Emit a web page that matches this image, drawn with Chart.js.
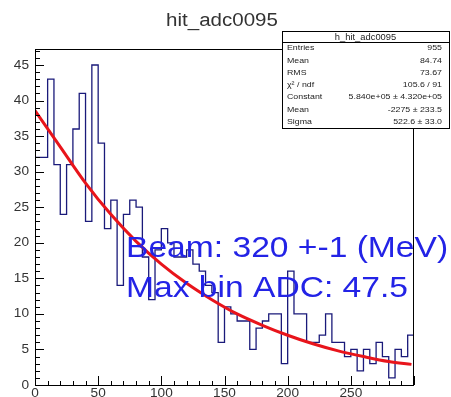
<!DOCTYPE html>
<html>
<head>
<meta charset="utf-8">
<script src="https://cdn.jsdelivr.net/npm/chart.js@4.4.1/dist/chart.umd.min.js"></script>
<style>
  html, body { margin: 0; padding: 0; background: #fff; }
  #wrap { position: relative; width: 451px; height: 397px; }
</style>
</head>
<body>
<div id="wrap"><canvas id="c" width="451" height="397"></canvas></div>
<script>
// histogram: 60 bins of width 5 from 0 to 300
const binLow = 0;
const binWidth = 5;
const counts = [32, 32, 43, 31, 24, 31, 36, 41, 23, 45, 34, 22, 26, 14, 24,
  26, 25, 18, 12, 19, 22, 20, 18, 18, 19, 17, 16, 14, 13, 6,
  11, 10, 9, 9, 5, 8, 9, 10, 10, 3, 16, 10, 10, 6, 6,
  7, 10, 6, 6, 4, 5, 2, 5, 3, 6, 4, 1, 5, 4, 7];

// red fit curve, read at every 20 ADC
const fitX = [0, 20, 40, 60, 80, 100, 120, 140, 160, 180, 200, 220, 240, 260, 280, 298];
const fitY = [38.6, 33.5, 28.4, 24.0, 20.2, 17.0, 14.3, 12.0, 10.0, 8.4, 7.0, 5.8, 4.8, 4.0, 3.3, 2.9];

const xTicks = [0, 50, 100, 150, 200, 250];
const yTicks = [0, 5, 10, 15, 20, 25, 30, 35, 40, 45];

const statsTitle = 'h_hit_adc0095';
const statsRows = [
  ['Entries', '955'],
  ['Mean', '84.74'],
  ['RMS', '73.67'],
  ['\u03c7\u00b2 / ndf', '105.6 / 91'],
  ['Constant', '5.840e+05 \u00b1 4.320e+05'],
  ['Mean', '-2275 \u00b1 233.5'],
  ['Sigma', '522.6 \u00b1 33.0']
];

// step outline points at the bin edges
const histPts = counts.map((c, i) => ({ x: binLow + i * binWidth, y: c }));
histPts.push({ x: binLow + counts.length * binWidth, y: counts[counts.length - 1] });
const fitPts = fitX.map((x, i) => ({ x, y: fitY[i] }));

const FONT = '"Liberation Sans", Arial, sans-serif';

// text with a slight horizontal stretch
function label(ctx, str, px, py, size, align, sx) {
  ctx.save();
  ctx.translate(px, py);
  ctx.scale(sx, 1);
  ctx.font = size + 'px ' + FONT;
  ctx.textAlign = align;
  ctx.fillText(str, 0, 0);
  ctx.restore();
}

const rootAxes = {
  id: 'rootAxes',
  afterDraw(chart) {
    const { ctx, chartArea: a, scales: { x, y } } = chart;
    ctx.save();
    ctx.strokeStyle = '#000';
    ctx.lineWidth = 1;
    ctx.strokeRect(a.left + 0.5, a.top + 0.5, a.right - a.left - 1, a.bottom - a.top);
    ctx.beginPath();
    // y ticks, one per unit, long every 5
    for (let v = 0; v <= 47; v++) {
      const py = Math.round(y.getPixelForValue(v)) + 0.5;
      const len = v % 5 === 0 ? 9 : 5;
      ctx.moveTo(a.left, py);
      ctx.lineTo(a.left + len, py);
    }
    // x ticks every 10, long every 50
    for (let v = 0; v <= 300; v += 10) {
      const px = Math.round(x.getPixelForValue(v)) + 0.5;
      const len = v % 50 === 0 ? 9 : 4;
      ctx.moveTo(px, a.bottom);
      ctx.lineTo(px, a.bottom - len);
    }
    ctx.stroke();

    ctx.fillStyle = '#333';
    ctx.textBaseline = 'middle';
    yTicks.forEach(v => label(ctx, String(v), a.left - 6, y.getPixelForValue(v), 13, 'right', 1.05));
    ctx.textBaseline = 'alphabetic';
    xTicks.forEach(v => label(ctx, String(v), x.getPixelForValue(v), 397, 13, 'center', 1.05));

    // title
    ctx.fillStyle = '#333';
    label(ctx, 'hit_adc0095', 222, 26, 18, 'center', 1.14);

    // stats box
    const bx = 282, by = 31, bw = 167, bh = 97, hh = 11;
    ctx.fillStyle = '#fff';
    ctx.fillRect(bx, by, bw, bh);
    ctx.strokeStyle = '#000';
    ctx.strokeRect(bx + 0.5, by + 0.5, bw, bh);
    ctx.beginPath();
    ctx.moveTo(bx, by + hh + 0.5);
    ctx.lineTo(bx + bw, by + hh + 0.5);
    ctx.stroke();
    ctx.fillStyle = '#222';
    ctx.textBaseline = 'middle';
    label(ctx, statsTitle, bx + bw / 2, by + hh / 2 + 1, 8.5, 'center', 1.1);
    const slot = (bh - hh) / statsRows.length;
    statsRows.forEach((r, i) => {
      const ry = by + hh + slot * (i + 0.5);
      label(ctx, r[0], bx + 5, ry, 8, 'left', 1.1);
      label(ctx, r[1], bx + bw - 7, ry, 8, 'right', 1.1);
    });

    // blue annotations
    ctx.fillStyle = '#2323e6';
    ctx.textBaseline = 'alphabetic';
    label(ctx, 'Beam: 320 +-1 (MeV)', 126, 257, 30, 'left', 1.12);
    label(ctx, 'Max bin ADC: 47.5', 126, 297, 30, 'left', 1.12);
    ctx.restore();
  }
};

new Chart(document.getElementById('c'), {
  type: 'line',
  data: {
    datasets: [
      {
        data: fitPts,
        borderColor: '#e8141b',
        borderWidth: 3,
        pointRadius: 0,
        cubicInterpolationMode: 'monotone',
        order: 0
      },
      {
        data: histPts,
        borderColor: '#1a1a7a',
        borderWidth: 1.3,
        pointRadius: 0,
        stepped: 'before',
        order: 1
      }
    ]
  },
  options: {
    responsive: false,
    animation: false,
    layout: { padding: { left: 35, top: 49, right: 37, bottom: 12 } },
    plugins: { legend: { display: false }, tooltip: { enabled: false } },
    scales: {
      x: { type: 'linear', min: 0, max: 300, display: false },
      y: { type: 'linear', min: 0, max: 47.25, display: false }
    }
  },
  plugins: [rootAxes]
});
</script>
</body>
</html>
